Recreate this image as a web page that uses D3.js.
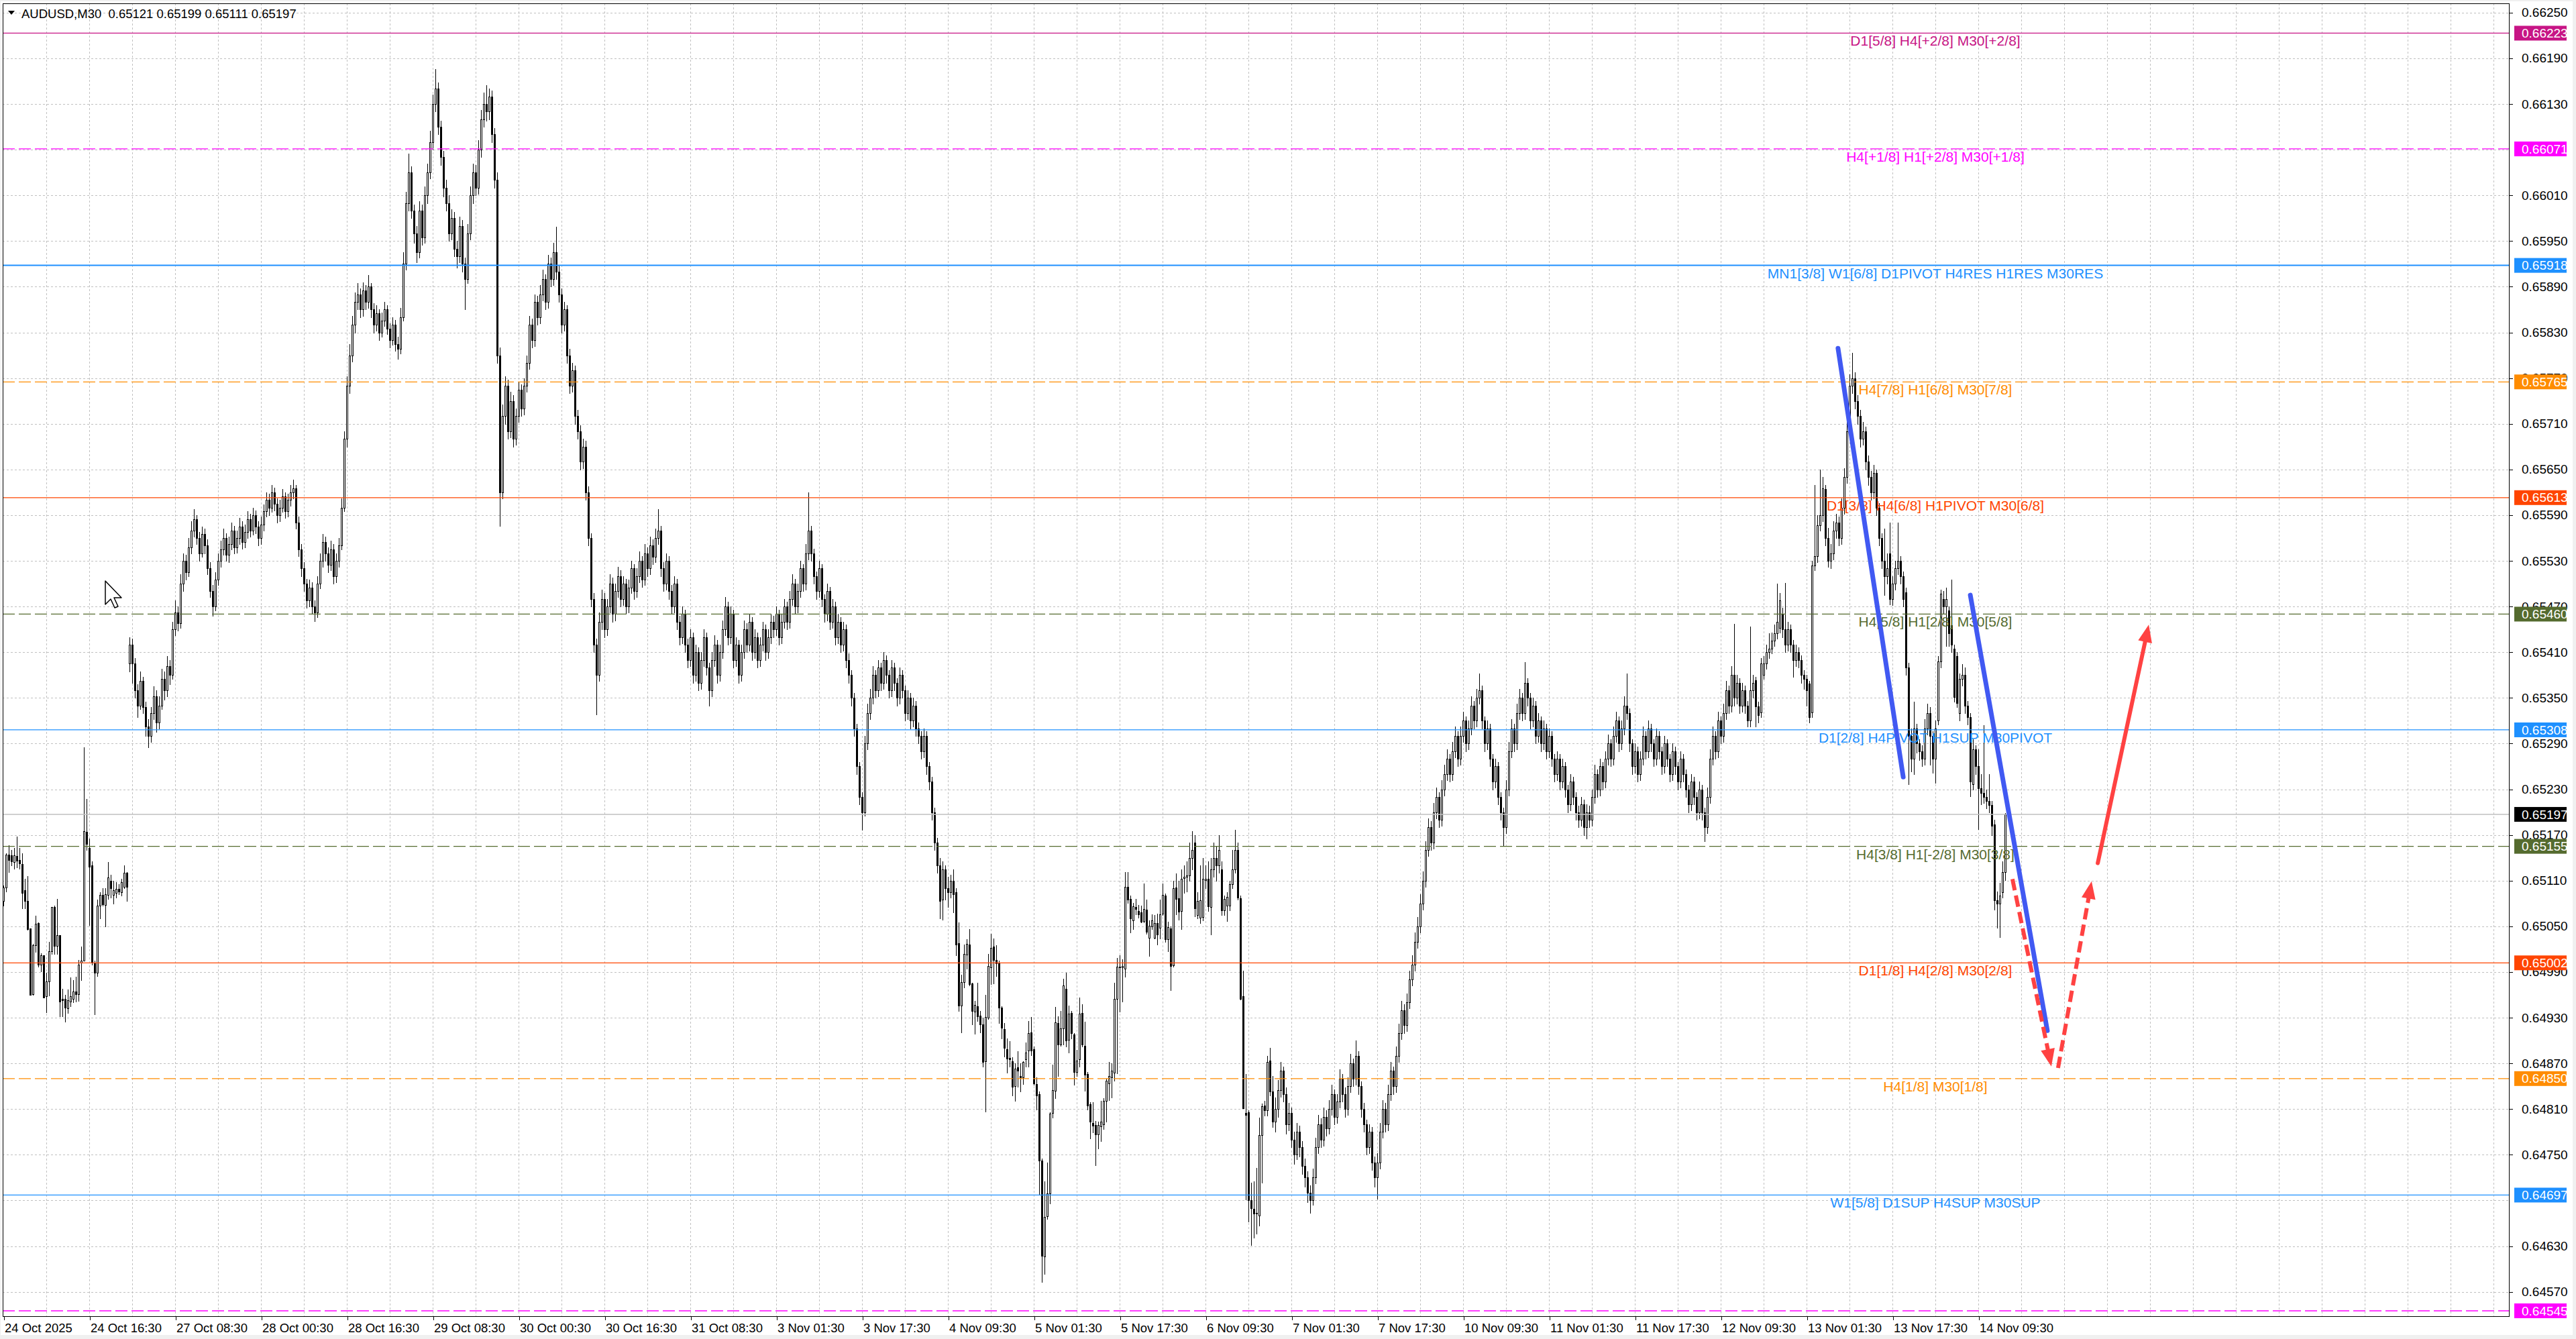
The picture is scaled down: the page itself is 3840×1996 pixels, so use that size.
<!DOCTYPE html>
<html><head><meta charset="utf-8">
<script src="https://cdn.jsdelivr.net/npm/d3@7"></script>
<style>
html,body{margin:0;padding:0;background:#fff;}
svg{display:block;}
text{font-family:"Liberation Sans",Arial,sans-serif;}
</style></head><body>
<svg id="chart" width="3840" height="1996"></svg>
<script>
// ---------------- DATA (prices in points, 1 point = 0.00001) ----------------
const openPts=[
65083,65101,65144,65143,65134,65142,65137,65132,65097,65083,65047,64961,65025,65054,65000,65012,64958,64978,65017,65075,65024,65038,64955,64955,64942,64951,64955,64964,64961,65002,65005,65174,65153,65130,65002,64989,65077,65091,65078,65091,65110,65091,65094,65099,65095,65102,65120,
65395,65420,65395,65360,65340,65372,65338,65312,65300,65330,
65352,65318,65340,65375,65360,65392,65380,65440,65462,65448,
65500,65530,65515,65548,65570,65585,65560,65540,65565,65550,
65520,65490,65470,65505,65530,65545,65560,65538,65552,65570,
65548,65560,65575,65555,65568,65585,65570,65590,65575,65560,
65578,65595,65610,65600,65620,65605,65590,65600,65615,65595,
65610,65620,65625,65580,65545,65520,65500,65478,65495,65470,
65462,65500,65530,65555,65540,65525,65545,65510,65530,65550,
65600,65690,65760,65800,65840,65870,65880,65860,65885,65870,
65890,65860,65840,65855,65830,65845,65860,65835,65820,65840,
65815,65808,65850,65920,66000,66040,65990,65960,65935,65990,
65955,66010,66040,66080,66130,66150,66100,66060,66020,66000,
65960,65980,65940,65930,65970,65920,65900,65960,66010,66040,
66020,66070,66110,66130,66120,66140,66090,66030,65800,65620,
65720,65760,65700,65740,65690,65720,65755,65730,65760,65790,
65840,65820,65870,65850,65880,65900,65870,65920,65900,65935,
65910,65880,65840,65860,65800,65760,65780,65720,65700,65660,
65680,65620,65560,65480,65420,65380,65450,65480,65440,65470,
65500,65460,65490,65510,65480,65500,65470,65495,65520,65490,
65510,65530,65505,65540,65520,65550,65535,65560,65570,65520,
65500,65530,65490,65470,65500,65450,65430,65460,65420,65400,
65430,65380,65410,65370,65400,65430,65390,65360,65400,65420,
65380,65410,65440,65470,65430,65460,65400,65420,65380,65410,
65440,65420,65450,65410,65430,65400,65420,65440,65410,65430,
65450,65440,65460,65430,65450,65470,65450,65480,65500,65470,
65490,65520,65500,65540,65570,65540,65510,65490,65520,65480,
65460,65490,65450,65470,65430,65450,65420,65440,65400,65380,
65350,65310,65260,65220,65200,65290,65330,65350,65380,65360,
65390,65370,65400,65380,65360,65390,65370,65350,65380,65360,
65330,65350,65320,65340,65310,65300,65280,65300,65260,65240,
65200,65160,
65130,65085,65125,65100,65095,65110,65095,65028,64946,64977,
65013,65026,64975,64938,64945,64933,64921,64873,64930,64996,
65023,65006,65002,64943,64915,64889,64877,64873,64840,64865,
64853,64852,64875,64887,64911,64889,64843,64830,64742,64616,
64669,64699,64805,64834,64923,64895,64916,64968,64901,64936,
64908,64859,64875,64936,64893,64856,64816,64792,64789,64777,
64787,64790,64821,64844,64852,64858,64955,64997,64996,64994,
65102,65086,65058,65075,65070,65068,65057,65072,65035,65050,
65035,65054,65048,65067,65090,65033,65047,64999,65101,65087,
65070,65113,65115,65117,65140,65160,65065,65061,65062,65111,
65112,65075,65125,65140,65130,65125,65071,65077,65077,65105,
65125,65150,65087,64958,64805,64806,64690,64679,64673,64670,
64776,64815,64808,64874,64833,
64793,64810,64835,64860,64830,64790,64805,64770,64750,64780,
64760,64735,64720,64700,64690,64720,64760,64790,64770,64800,
64785,64810,64830,64800,64820,64850,64830,64810,64840,64870,
64850,64880,64840,64810,64790,64760,64780,64740,64720,64740,
64780,64810,64790,64830,64860,64840,64880,64910,64940,64920,
64950,64980,65000,65030,65050,65080,65110,65150,65180,65160,
65200,65220,65190,65230,65250,65270,65250,65280,65300,65270,
65300,65320,65290,65310,65340,65320,65350,65360,65320,65290,
65310,65270,65240,65260,65220,65200,65180,65230,65280,65310,
65290,65330,65350,65330,65370,65350,65320,65340,65300,65320,
65290,65310,65280,65300,65270,65250,65270,65240,65260,65230,
65210,65240,65220,65200,65190,65210,65180,65200,65190,65220,
65250,65230,65260,65240,65270,65290,65270,65300,65320,65290,
65310,65340,65330,65290,65260,65280,65250,65270,65300,65280,
65310,65290,65270,65300,65280,65260,65290,65270,65250,65280,
65260,65240,65270,65250,65230,65210,65240,65220,65200,65230,
65200,65180,65220,65270,65300,65280,65320,65300,65330,65360,
65340,65380,65350,65370,65340,
65360,65340,65320,65360,65373,65339,65331,65380,65395,65410,
65415,65425,65435,65442,65460,65440,65420,65440,65420,65400,
65410,65400,65380,65375,65369,65331,65524,65536,65577,65590,
65624,65560,65530,65540,65570,65580,65560,65600,65640,65700,
65760,65770,65740,65720,65690,65700,65660,65640,65620,65645,
65600,65560,65530,65510,65540,65480,65500,65520,65530,65510,
65489,65390,65300,65270,65310,65290,65280,65270,65310,65330,
65300,65270,65320,65398,65480,65470,65465,65445,65415,65405,
65330,65375,65380,65340,65325,65237,65282,65260,65231,65225,
65220,65215,65209,65184,65084,65080,65095,65121];

const highPts=[
65104,65146,65156,65150,65153,65168,65153,65146,65112,65116,65047,65027,65064,65055,65015,65012,64989,65030,65075,65077,65086,65038,64968,64960,64967,64983,64979,64984,65006,65023,65285,65217,65165,65135,65005,65085,65095,65100,65100,65134,65118,65110,65108,65105,65112,65130,65121,
65430,65428,65402,65368,65385,65378,65345,65322,65338,65365,
65360,65352,65388,65385,65405,65400,65450,65478,65470,65512,
65540,65538,65560,65582,65598,65590,65568,65575,65572,65558,
65528,65498,65515,65540,65556,65572,65566,65562,65580,65576,
65570,65586,65582,65578,65595,65592,65600,65596,65582,65588,
65604,65620,65618,65630,65626,65612,65610,65624,65620,65618,
65630,65637,65630,65588,65552,65528,65506,65505,65502,65478,
65510,65540,65565,65562,65548,65556,65552,65540,65560,65612,
65700,65772,65815,65852,65882,65895,65888,65896,65892,65905,
65895,65868,65866,65860,65856,65870,65866,65842,65850,65846,
65824,65862,65935,66015,66065,66048,65998,65970,66002,65998,
66022,66052,66095,66142,66176,66158,66108,66068,66030,66010,
65992,65988,65950,65982,65978,65928,65972,66022,66052,66050,
66082,66122,66145,66155,66150,66148,66098,66040,65810,65735,
65772,65768,65752,65748,65730,65765,65762,65770,65800,65852,
65848,65880,65878,65892,65912,65906,65932,65928,65948,65969,
65918,65888,65870,65866,65808,65790,65786,65728,65708,65690,
65688,65628,65566,65488,65428,65462,65492,65488,65480,65512,
65508,65500,65522,65518,65510,65506,65505,65530,65526,65520,
65542,65536,65552,65548,65562,65558,65572,65598,65576,65528,
65540,65536,65498,65510,65506,65458,65470,65466,65428,65440,
65436,65420,65416,65410,65440,65436,65396,65410,65432,65426,
65420,65452,65482,65476,65470,65466,65430,65426,65420,65452,
65448,65460,65456,65440,65436,65430,65450,65446,65440,65460,
65458,65470,65466,65460,65480,65476,65490,65512,65506,65500,
65530,65526,65552,65620,65576,65546,65516,65530,65526,65486,
65500,65496,65480,65476,65460,65456,65450,65446,65408,65386,
65356,65316,65266,65226,65300,65342,65362,65392,65386,65400,
65396,65410,65406,65386,65400,65396,65376,65390,65386,65366,
65360,65356,65350,65346,65318,65306,65310,65306,65266,65246,
65206,65166,
65140,65135,65130,65115,65118,65125,65100,65055,64986,65026,
65033,65046,64976,64952,64976,64939,64930,64960,65014,65040,
65034,65025,65005,64945,64923,64903,64899,64878,64870,64886,
64870,64873,64897,64926,64931,64892,64852,64833,64745,64715,
64740,64806,64868,64944,64932,64939,64981,64989,64946,64939,
64910,64888,64956,64948,64925,64859,64819,64819,64794,64793,
64821,64824,64850,64872,64870,64976,65008,65012,65007,65121,
65121,65090,65081,65086,65078,65077,65106,65085,65058,65066,
65065,65067,65085,65106,65093,65056,65050,65110,65119,65110,
65125,65130,65135,65160,65175,65170,65095,65130,65140,65130,
65135,65140,65160,65155,65170,65135,65090,65095,65110,65150,
65177,65160,65090,64992,64856,64808,64713,64715,64733,64799,
64817,64821,64880,64890,64853,
64825,64848,64872,64866,64838,64818,64812,64780,64792,64788,
64768,64745,64728,64710,64732,64772,64802,64798,64812,64808,
64822,64842,64836,64830,64862,64856,64838,64852,64882,64876,
64900,64886,64846,64818,64796,64790,64786,64748,64752,64792,
64822,64818,64842,64872,64866,64892,64922,64952,64948,64962,
64992,65012,65042,65062,65092,65122,65162,65192,65188,65212,
65232,65226,65242,65262,65282,65276,65292,65312,65306,65312,
65332,65326,65320,65352,65346,65362,65382,65366,65326,65320,
65316,65276,65270,65266,65226,65206,65242,65292,65322,65316,
65342,65362,65356,65397,65376,65356,65350,65346,65330,65326,
65320,65316,65310,65306,65276,65280,65276,65270,65266,65236,
65250,65246,65226,65208,65220,65216,65210,65208,65230,65262,
65256,65270,65266,65280,65302,65296,65312,65332,65326,65320,
65352,65382,65336,65296,65290,65286,65280,65312,65306,65320,
65316,65296,65310,65306,65286,65300,65296,65276,65290,65286,
65266,65280,65276,65256,65236,65250,65246,65226,65240,65236,
65206,65232,65282,65312,65306,65332,65326,65342,65372,65366,
65392,65447,65380,65376,65370,
65366,65346,65444,65380,65378,65345,65402,65405,65420,65435,
65436,65446,65500,65488,65468,65501,65450,65446,65426,65420,
65416,65406,65386,65380,65372,65530,65630,65590,65650,65640,
65630,65573,65552,65582,65592,65588,65612,65652,65712,65775,
65803,65778,65748,65728,65712,65706,65668,65648,65656,65650,
65606,65566,65572,65540,65580,65510,65530,65580,65536,65516,
65495,65396,65310,65345,65316,65296,65288,65322,65342,65338,
65306,65320,65405,65492,65490,65495,65470,65505,65420,65410,
65382,65394,65390,65346,65330,65296,65288,65282,65250,65314,
65230,65250,65215,65190,65096,65107,65135,65199];

const lowPts=[
65077,65096,65121,65130,65126,65127,65126,65074,65074,65045,64960,64960,65016,64997,64991,64956,64937,64959,65014,65014,65014,64932,64932,64925,64936,64945,64950,64951,64952,64979,65005,65150,65052,65000,64934,64985,65060,65077,65050,65086,65088,65080,65088,65092,65090,65100,65083,
65385,65370,65350,65325,65335,65330,65300,65285,65292,65322,
65305,65310,65335,65348,65352,65368,65375,65432,65438,65442,
65490,65505,65510,65540,65562,65552,65530,65535,65540,65512,
65482,65458,65465,65498,65522,65538,65530,65528,65545,65540,
65541,65552,65546,65548,65560,65562,65564,65566,65550,65552,
65570,65588,65590,65594,65596,65580,65582,65594,65586,65588,
65602,65612,65572,65536,65510,65490,65468,65470,65460,65451,
65456,65494,65522,65530,65515,65518,65500,65502,65522,65545,
65595,65680,65750,65792,65830,65860,65850,65852,65860,65862,
65850,65830,65832,65820,65824,65838,65828,65810,65814,65806,
65795,65802,65845,65912,65990,65980,65948,65922,65928,65945,
65948,66000,66032,66070,66120,66090,66050,66008,65990,65950,
65952,65930,65915,65922,65910,65860,65895,65952,66000,66010,
66012,66060,66100,66108,66110,66080,66020,65790,65576,65612,
65710,65690,65692,65680,65682,65712,65720,65722,65752,65782,
65810,65812,65840,65842,65872,65860,65862,65890,65892,65900,
65870,65830,65832,65790,65750,65752,65710,65690,65650,65652,
65610,65550,65470,65410,65328,65372,65440,65430,65432,65462,
65450,65452,65482,65470,65472,65460,65462,65488,65480,65482,
65502,65496,65498,65510,65512,65526,65528,65552,65510,65490,
65492,65480,65460,65462,65440,65420,65422,65410,65390,65392,
65370,65372,65360,65362,65392,65380,65340,65352,65392,65370,
65372,65402,65432,65420,65422,65390,65392,65370,65372,65402,
65410,65412,65400,65402,65390,65392,65412,65400,65402,65422,
65430,65432,65420,65422,65442,65440,65442,65472,65460,65462,
65482,65490,65492,65532,65530,65500,65480,65482,65470,65450,
65452,65440,65442,65420,65422,65410,65412,65390,65370,65340,
65300,65250,65210,65177,65195,65282,65322,65342,65350,65352,
65360,65362,65370,65350,65352,65360,65340,65342,65350,65320,
65322,65310,65312,65300,65290,65270,65272,65250,65230,65190,
65150,65120,
65060,65059,65085,65075,65088,65068,65012,64939,64911,64970,
64994,64972,64921,64909,64926,64911,64866,64807,64928,64974,
64975,64985,64923,64903,64879,64858,64866,64828,64821,64839,
64833,64843,64866,64866,64881,64842,64809,64697,64583,64593,
64666,64686,64799,64824,64853,64893,64895,64892,64884,64903,
64842,64853,64866,64892,64834,64809,64771,64779,64736,64758,
64768,64784,64793,64822,64825,64847,64857,64938,64951,64984,
65081,65042,65046,65066,65061,65055,65055,65040,65011,65046,
65034,65026,65034,65065,65030,65017,64966,64997,65066,65059,
65046,65094,65096,65110,65125,65063,65060,65054,65058,65100,
65070,65039,65115,65110,65120,65065,65065,65057,65071,65100,
65120,65085,64954,64811,64691,64662,64631,64641,64646,64657,
64713,64801,64801,64828,64786,
64780,64800,64826,64820,64778,64782,64760,64738,64744,64748,
64725,64708,64688,64674,64684,64712,64752,64760,64762,64775,
64778,64802,64790,64792,64812,64820,64800,64802,64832,64840,
64842,64830,64800,64780,64750,64752,64730,64708,64692,64732,
64772,64780,64782,64822,64830,64832,64872,64902,64910,64912,
64942,64972,64992,65022,65042,65072,65102,65142,65150,65152,
65192,65180,65182,65222,65242,65240,65242,65272,65260,65262,
65292,65280,65282,65302,65310,65312,65342,65310,65280,65282,
65260,65230,65232,65210,65190,65156,65172,65222,65272,65280,
65282,65322,65320,65322,65340,65310,65312,65290,65292,65280,
65282,65270,65272,65260,65240,65242,65230,65232,65220,65200,
65202,65210,65190,65180,65182,65170,65165,65180,65182,65212,
65220,65222,65230,65232,65262,65260,65262,65292,65280,65282,
65302,65322,65280,65250,65252,65240,65242,65262,65270,65272,
65280,65260,65262,65270,65250,65252,65260,65240,65242,65250,
65230,65232,65240,65220,65200,65202,65210,65190,65192,65190,
65162,65172,65212,65262,65270,65272,65290,65292,65322,65330,
65332,65340,65342,65330,65332,
65330,65312,65312,65350,65312,65318,65325,65375,65388,65402,
65408,65418,65428,65436,65430,65410,65412,65410,65378,65392,
65390,65370,65362,65340,65318,65325,65518,65528,65570,65582,
65550,65522,65520,65532,65560,65550,65552,65592,65632,65692,
65750,65730,65710,65680,65682,65650,65630,65610,65612,65590,
65550,65520,65485,65500,65473,65472,65492,65512,65500,65470,
65380,65237,65253,65250,65278,65268,65260,65262,65302,65262,
65252,65238,65315,65390,65460,65418,65418,65410,65345,65338,
65320,65366,65330,65315,65221,65230,65250,65178,65210,65212,
65205,65200,65170,65072,65048,65036,65088,65111];

const closePts=[
65101,65144,65137,65135,65143,65136,65133,65094,65083,65046,64960,65025,65053,65000,65012,64956,64978,65017,65075,65024,65038,64951,64953,64943,64953,64958,64964,64961,65000,65005,65175,65158,65128,65002,64989,65077,65091,65079,65092,65114,65100,65097,65099,65096,65108,65120,65102,
65420,65395,65360,65340,65372,65338,65312,65300,65330,65352,
65318,65340,65375,65360,65392,65380,65440,65462,65448,65500,
65530,65515,65548,65570,65585,65560,65540,65565,65550,65520,
65490,65470,65505,65530,65545,65560,65538,65552,65570,65548,
65560,65575,65555,65568,65585,65570,65590,65575,65560,65578,
65595,65610,65600,65620,65605,65590,65600,65615,65595,65610,
65620,65625,65580,65545,65520,65500,65478,65495,65470,65462,
65500,65530,65555,65540,65525,65545,65510,65530,65550,65600,
65690,65760,65800,65840,65870,65880,65860,65885,65870,65890,
65860,65840,65855,65830,65845,65860,65835,65820,65840,65815,
65808,65850,65920,66000,66040,65990,65960,65935,65990,65955,
66010,66040,66080,66130,66150,66100,66060,66020,66000,65960,
65980,65940,65930,65970,65920,65900,65960,66010,66040,66020,
66070,66110,66130,66120,66140,66090,66030,65800,65620,65720,
65760,65700,65740,65690,65720,65755,65730,65760,65790,65840,
65820,65870,65850,65880,65900,65870,65920,65900,65935,65910,
65880,65840,65860,65800,65760,65780,65720,65700,65660,65680,
65620,65560,65480,65420,65380,65450,65480,65440,65470,65500,
65460,65490,65510,65480,65500,65470,65495,65520,65490,65510,
65530,65505,65540,65520,65550,65535,65560,65570,65520,65500,
65530,65490,65470,65500,65450,65430,65460,65420,65400,65430,
65380,65410,65370,65400,65430,65390,65360,65400,65420,65380,
65410,65440,65470,65430,65460,65400,65420,65380,65410,65440,
65420,65450,65410,65430,65400,65420,65440,65410,65430,65450,
65440,65460,65430,65450,65470,65450,65480,65500,65470,65490,
65520,65500,65540,65570,65540,65510,65490,65520,65480,65460,
65490,65450,65470,65430,65450,65420,65440,65400,65380,65350,
65310,65260,65220,65200,65290,65330,65350,65380,65360,65390,
65370,65400,65380,65360,65390,65370,65350,65380,65360,65330,
65350,65320,65340,65310,65300,65280,65300,65260,65240,65200,
65160,65130,
65083,65125,65100,65095,65110,65092,65026,64946,64977,65014,
65027,64974,64939,64947,64932,64921,64872,64931,64998,65022,
65006,65001,64943,64917,64890,64876,64875,64839,64863,64860,
64852,64872,64884,64910,64887,64844,64828,64742,64617,64668,
64699,64804,64835,64924,64895,64916,64972,64900,64935,64910,
64859,64874,64935,64895,64855,64815,64793,64788,64777,64789,
64793,64821,64847,64853,64860,64955,64997,64996,64998,65102,
65085,65060,65076,65073,65066,65056,65073,65043,65051,65058,
65054,65039,65066,65091,65033,65049,64998,65100,65086,65069,
65112,65115,65117,65140,65150,65074,65083,65084,65112,65112,
65076,65125,65140,65130,65150,65071,65086,65089,65105,65125,
65150,65088,64955,64811,64802,64690,64680,64673,64674,64776,
64814,64808,64872,64833,64793,
64810,64835,64860,64830,64790,64805,64770,64750,64780,64760,
64735,64720,64700,64690,64720,64760,64790,64770,64800,64785,
64810,64830,64800,64820,64850,64830,64810,64840,64870,64850,
64880,64840,64810,64790,64760,64780,64740,64720,64740,64780,
64810,64790,64830,64860,64840,64880,64910,64940,64920,64950,
64980,65000,65030,65050,65080,65110,65150,65180,65160,65200,
65220,65190,65230,65250,65270,65250,65280,65300,65270,65300,
65320,65290,65310,65340,65320,65350,65360,65320,65290,65310,
65270,65240,65260,65220,65200,65180,65230,65280,65310,65290,
65330,65350,65330,65370,65350,65320,65340,65300,65320,65290,
65310,65280,65300,65270,65250,65270,65240,65260,65230,65210,
65240,65220,65200,65190,65210,65180,65200,65190,65220,65250,
65230,65260,65240,65270,65290,65270,65300,65320,65290,65310,
65340,65330,65290,65260,65280,65250,65270,65300,65280,65310,
65290,65270,65300,65280,65260,65290,65270,65250,65280,65260,
65240,65270,65250,65230,65210,65240,65220,65200,65230,65200,
65180,65220,65270,65300,65280,65320,65300,65330,65360,65340,
65380,65350,65370,65340,65360,
65340,65320,65360,65370,65339,65327,65395,65395,65410,65415,
65425,65435,65450,65478,65440,65420,65440,65420,65400,65410,
65400,65380,65375,65360,65325,65524,65536,65577,65590,65625,
65560,65530,65540,65570,65580,65560,65600,65640,65700,65760,
65770,65740,65720,65690,65700,65660,65640,65620,65645,65600,
65560,65530,65510,65520,65480,65500,65520,65530,65510,65480,
65390,65300,65270,65310,65290,65280,65270,65310,65330,65300,
65270,65310,65398,65487,65470,65480,65435,65420,65351,65343,
65375,65380,65340,65325,65240,65282,65260,65231,65225,65220,
65215,65209,65182,65084,65080,65090,65121,65197];

// time axis labels (one every 32 bars)
const timeLabels=["24 Oct 2025","24 Oct 16:30","27 Oct 08:30","28 Oct 00:30","28 Oct 16:30","29 Oct 08:30","30 Oct 00:30","30 Oct 16:30","31 Oct 08:30","3 Nov 01:30","3 Nov 17:30","4 Nov 09:30","5 Nov 01:30","5 Nov 17:30","6 Nov 09:30","7 Nov 01:30","7 Nov 17:30","10 Nov 09:30","11 Nov 01:30","11 Nov 17:30","12 Nov 09:30","13 Nov 01:30","13 Nov 17:30","14 Nov 09:30"];
const timeLabelBars=[0,32,64,96,128,160,192,224,256,288,320,352,384,416,448,480,512,544,576,608,640,672,704,736];

// price grid levels and the labels shown on the price scale
const priceGrid=[0.66250,0.66190,0.66130,0.66070,0.66010,0.65950,0.65890,0.65830,0.65770,0.65710,0.65650,0.65590,0.65530,0.65470,0.65410,0.65350,0.65290,0.65230,0.65170,0.65110,0.65050,0.64990,0.64930,0.64870,0.64810,0.64750,0.64690,0.64630,0.64570];
const priceLabels=[0.66250,0.66190,0.66130,0.66010,0.65950,0.65890,0.65830,0.65770,0.65710,0.65650,0.65590,0.65530,0.65470,0.65410,0.65350,0.65290,0.65230,0.65170,0.65110,0.65050,0.64990,0.64930,0.64870,0.64810,0.64750,0.64630,0.64570];

// Murrey / pivot levels (the label of the lowest one lies under the time scale)
const levelPrices=[0.66223,0.66071,0.65918,0.65765,0.65613,0.65460,0.65308,0.65155,0.65002,0.64850,0.64697,0.64545];
const levelTexts=["D1[5/8] H4[+2/8] M30[+2/8]","H4[+1/8] H1[+2/8] M30[+1/8]","MN1[3/8] W1[6/8] D1PIVOT H4RES H1RES M30RES","H4[7/8] H1[6/8] M30[7/8]","D1[3/8] H4[6/8] H1PIVOT M30[6/8]","H4[5/8] H1[2/8] M30[5/8]","D1[2/8] H4PIVOT H1SUP M30PIVOT","H4[3/8] H1[-2/8] M30[3/8]","D1[1/8] H4[2/8] M30[2/8]","H4[1/8] M30[1/8]","W1[5/8] D1SUP H4SUP M30SUP",""];
const currentPrice=0.65197;
const titleText="AUDUSD,M30  0.65121 0.65199 0.65111 0.65197";

// drawn objects, in (bar index, price)
const blueLines=[[683.6,0.65809,707.9,0.65246],[732.9,0.65485,761.6,0.64913]];
const redDashedArrows=[[748.6,0.65112,763.1,0.64866],[765.6,0.64864,778.1,0.65109]];
const redSolidArrows=[[780.4,0.65133,799.4,0.65446]];

// ---------------- STYLES ----------------
const levelColors=["#C71585","#FF00FF","#1E90FF","#FF8C00","#FF4500","#556B2F","#1E90FF","#556B2F","#FF4500","#FF8C00","#1E90FF","#FF00FF"];
const levelDashed=[false,true,false,true,false,true,false,true,false,true,false,true];
const levelWidths=[1.3,1.3,2,1.3,1.3,1.3,1.3,1.3,1.3,1.3,1.3,1.3];

// ---------------- DRAW ----------------
const svg=d3.select("#chart");
const W=3840,H=1996;
const plot={left:4,top:5,right:3740,bottom:1962};
const x=d3.scaleLinear().domain([0,933.5]).range([5.5,3739.5]);
const y=d3.scaleLinear().domain([0.64570,0.66250]).range([1925.6,18.8]);
const ry=v=>Math.round(y(v));
const FONT='"Liberation Sans",Arial,sans-serif';

svg.append("rect").attr("width",W).attr("height",H).attr("fill","#f0f0f0");
svg.append("rect").attr("x",1).attr("y",2).attr("width",3834).attr("height",1988).attr("fill","#fff");

const defs=svg.append("defs");
defs.append("clipPath").attr("id","plotclip").append("rect")
  .attr("x",plot.left).attr("y",plot.top).attr("width",plot.right-plot.left).attr("height",plot.bottom-plot.top);

const pg=svg.append("g").attr("clip-path","url(#plotclip)");

// grid
const gg=pg.append("g").attr("shape-rendering","crispEdges").attr("stroke","#c0c0c0").attr("stroke-dasharray","3,3");
gg.selectAll("line.h").data(priceGrid).join("line").attr("class","h")
  .attr("x1",plot.left).attr("x2",plot.right).attr("y1",d=>ry(d)+0.5).attr("y2",d=>ry(d)+0.5);
const gridBars=d3.range(16,934,16);
gg.selectAll("line.v").data(gridBars).join("line").attr("class","v")
  .attr("x1",d=>x(d)).attr("x2",d=>x(d)).attr("y1",plot.top).attr("y2",plot.bottom);

// candles
const N=Math.min(openPts.length,highPts.length,lowPts.length,closePts.length);
const bars=d3.range(N).map(i=>({i,o:openPts[i]/1e5,h:highPts[i]/1e5,l:lowPts[i]/1e5,c:closePts[i]/1e5}));
const cg=pg.append("g").attr("shape-rendering","crispEdges");
cg.selectAll("line.w").data(bars).join("line").attr("class","w")
  .attr("x1",d=>x(d.i)).attr("x2",d=>x(d.i))
  .attr("y1",d=>ry(d.h)).attr("y2",d=>ry(d.l)+1)
  .attr("stroke","#000").attr("stroke-width",1);
cg.selectAll("rect.bear").data(bars.filter(d=>d.c<d.o)).join("rect").attr("class","bear")
  .attr("x",d=>x(d.i)-1.5).attr("width",3)
  .attr("y",d=>ry(d.o)).attr("height",d=>Math.max(1,ry(d.c)-ry(d.o)+1))
  .attr("fill","#000");
cg.selectAll("rect.bull").data(bars.filter(d=>d.c>=d.o)).join("rect").attr("class","bull")
  .attr("x",d=>x(d.i)-1).attr("width",2)
  .attr("y",d=>ry(d.c)+0.5).attr("height",d=>Math.max(0,ry(d.o)-ry(d.c)))
  .attr("fill","#fff").attr("stroke","#000").attr("stroke-width",1);

// current price line
pg.append("line").attr("x1",plot.left).attr("x2",plot.right)
  .attr("y1",y(currentPrice)).attr("y2",y(currentPrice))
  .attr("stroke","#c0c0c0").attr("stroke-width",1.5);

// level lines
const lg=pg.append("g");
lg.selectAll("line").data(levelPrices).join("line")
  .attr("x1",plot.left).attr("x2",plot.right)
  .attr("y1",d=>y(d)).attr("y2",d=>y(d))
  .attr("stroke",(d,i)=>levelColors[i]).attr("stroke-width",(d,i)=>levelWidths[i])
  .attr("stroke-dasharray",(d,i)=>levelDashed[i]?"18,6":null);
lg.selectAll("text").data(levelPrices.filter((d,i)=>levelTexts[i])).join("text")
  .attr("x",2885).attr("y",d=>y(d)+19)
  .attr("text-anchor","middle").attr("font-size",21)
  .attr("fill",d=>levelColors[levelPrices.indexOf(d)]).text(d=>levelTexts[levelPrices.indexOf(d)]);

// trend lines
const og=pg.append("g");
og.selectAll("line.blue").data(blueLines).join("line").attr("class","blue")
  .attr("x1",d=>x(d[0])).attr("y1",d=>y(d[1])).attr("x2",d=>x(d[2])).attr("y2",d=>y(d[3]))
  .attr("stroke","#4159F2").attr("stroke-width",7).attr("stroke-linecap","round");

function drawArrow(d,dashed){
  const x1=x(d[0]),y1=y(d[1]),x2=x(d[2]),y2=y(d[3]);
  const dx=x2-x1,dy=y2-y1,len=Math.hypot(dx,dy),ux=dx/len,uy=dy/len;
  const L=26,Wd=21;
  const bx=x2-ux*L,by=y2-uy*L;
  og.append("line").attr("x1",x1).attr("y1",y1).attr("x2",bx+ux*4).attr("y2",by+uy*4)
    .attr("stroke","#FF4242").attr("stroke-width",6)
    .attr("stroke-dasharray",dashed?"17,8":null).attr("stroke-linecap",dashed?"butt":"round");
  og.append("path")
    .attr("d",`M${x2},${y2}L${bx-uy*Wd/2},${by+ux*Wd/2}L${bx+uy*Wd/2},${by-ux*Wd/2}Z`)
    .attr("fill","#FF4242");
}
redDashedArrows.forEach(d=>drawArrow(d,true));
redSolidArrows.forEach(d=>drawArrow(d,false));

// mouse cursor in the screenshot
pg.append("path").attr("d","M157,866 L157,901 L165,893 L171,906 L176,904 L170,891 L181,891 Z")
  .attr("fill","#fff").attr("stroke","#000").attr("stroke-width",1.5).attr("stroke-linejoin","round");

// frame
svg.append("rect").attr("x",plot.left+0.5).attr("y",plot.top+0.5)
  .attr("width",plot.right-plot.left).attr("height",plot.bottom-plot.top)
  .attr("fill","none").attr("stroke","#000").attr("stroke-width",1.5).attr("shape-rendering","crispEdges");

// price axis
const ya=svg.append("g").attr("transform",`translate(${plot.right},0)`)
  .call(d3.axisRight(y).tickValues(priceLabels).tickFormat(d3.format(".5f")).tickSize(6).tickPadding(13));
ya.select(".domain").remove();
ya.selectAll("line").attr("stroke","#000").attr("shape-rendering","crispEdges");
ya.selectAll("text").attr("font-size",19).attr("fill","#000").style("font-family",FONT);

// price boxes
const boxPrices=levelPrices.concat([currentPrice]);
const boxColors=levelColors.concat(["#000"]);
const bg=svg.append("g");
bg.selectAll("rect").data(boxPrices).join("rect")
  .attr("x",3748).attr("width",78).attr("y",d=>y(d)-11).attr("height",22)
  .attr("fill",(d,i)=>boxColors[i]);
bg.selectAll("text").data(boxPrices).join("text")
  .attr("x",3759).attr("y",d=>y(d)).attr("dy","0.35em")
  .attr("font-size",19).attr("fill","#fff").text(d=>d3.format(".5f")(d));

// time axis
const xa=svg.append("g").attr("transform",`translate(0,${plot.bottom})`)
  .call(d3.axisBottom(x).tickValues(timeLabelBars).tickFormat((d,i)=>timeLabels[i]).tickSize(6).tickPadding(6));
xa.select(".domain").remove();
xa.selectAll("line").attr("stroke","#000").attr("shape-rendering","crispEdges");
xa.selectAll("text").attr("text-anchor","start").attr("x",1).attr("y",8).attr("dy","0.85em")
  .attr("font-size",18.5).attr("fill","#000").style("font-family",FONT);

// title
svg.append("path").attr("d","M12,16 L22,16 L17,22 Z").attr("fill","#000");
svg.append("text").attr("x",32).attr("y",27).attr("font-size",18.5).attr("fill","#000")
  .style("white-space","pre").text(titleText);
</script>
</body></html>
